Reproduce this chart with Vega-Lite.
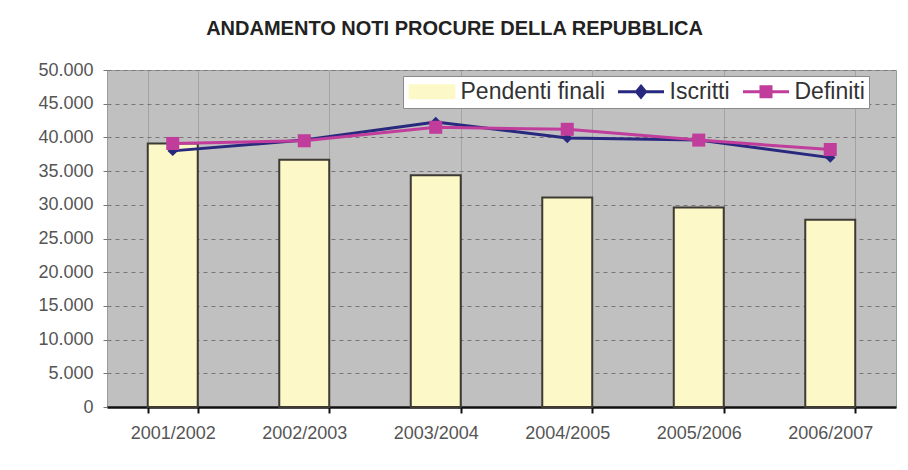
{
  "$schema": "https://vega.github.io/schema/vega-lite/v6.json",
  "width": 789,
  "height": 337,
  "autosize": "none",
  "padding": {"left": 107, "top": 70, "right": 12, "bottom": 63},
  "background": "white",
  "title": {
    "text": "ANDAMENTO NOTI PROCURE DELLA REPUBBLICA",
    "font": "Liberation Sans",
    "fontSize": 20,
    "fontWeight": "bold",
    "color": "#222222",
    "anchor": "middle",
    "dx": -47,
    "offset": 22
  },
  "data": {
    "values": [
      {"anno": "2001/2002", "serie": "Pendenti finali", "valore": 39100},
      {"anno": "2002/2003", "serie": "Pendenti finali", "valore": 36700},
      {"anno": "2003/2004", "serie": "Pendenti finali", "valore": 34400},
      {"anno": "2004/2005", "serie": "Pendenti finali", "valore": 31100},
      {"anno": "2005/2006", "serie": "Pendenti finali", "valore": 29600},
      {"anno": "2006/2007", "serie": "Pendenti finali", "valore": 27800},
      {"anno": "2001/2002", "serie": "Iscritti", "valore": 38000},
      {"anno": "2002/2003", "serie": "Iscritti", "valore": 39600},
      {"anno": "2003/2004", "serie": "Iscritti", "valore": 42300},
      {"anno": "2004/2005", "serie": "Iscritti", "valore": 39900},
      {"anno": "2005/2006", "serie": "Iscritti", "valore": 39600},
      {"anno": "2006/2007", "serie": "Iscritti", "valore": 37000},
      {"anno": "2001/2002", "serie": "Definiti", "valore": 39100},
      {"anno": "2002/2003", "serie": "Definiti", "valore": 39500},
      {"anno": "2003/2004", "serie": "Definiti", "valore": 41500},
      {"anno": "2004/2005", "serie": "Definiti", "valore": 41200},
      {"anno": "2005/2006", "serie": "Definiti", "valore": 39600},
      {"anno": "2006/2007", "serie": "Definiti", "valore": 38200}
    ]
  },
  "encoding": {
    "x": {
      "field": "anno",
      "type": "nominal",
      "title": null,
      "scale": {"paddingInner": 0.62, "paddingOuter": 0.31},
      "axis": {
        "labelAngle": 0,
        "labelFont": "Liberation Sans",
        "labelFontSize": 18,
        "labelColor": "#555555",
        "labelPadding": 11,
        "domainColor": "#111111",
        "domainWidth": 2.5,
        "tickColor": "#111111",
        "tickWidth": 2,
        "tickSize": 6,
        "tickBand": "extent",
        "grid": true,
        "gridColor": "#a3a3a3",
        "gridWidth": 1
      }
    },
    "y": {
      "field": "valore",
      "type": "quantitative",
      "title": null,
      "scale": {"domain": [0, 50000], "nice": false},
      "axis": {
        "tickCount": 10,
        "labelExpr": "replace(format(datum.value, ','), ',', '.')",
        "labelFont": "Liberation Sans",
        "labelFontSize": 18,
        "labelColor": "#555555",
        "labelPadding": 10,
        "domain": false,
        "tickColor": "#777777",
        "tickSize": 4,
        "grid": true,
        "gridColor": "#777777",
        "gridDash": [4, 4],
        "gridWidth": 1
      }
    }
  },
  "layer": [
    {
      "transform": [{"filter": "datum.serie === 'Pendenti finali'"}],
      "mark": {"type": "bar", "stroke": "#3d3a33", "strokeWidth": 2, "opacity": 1},
      "encoding": {
        "color": {
          "field": "serie",
          "type": "nominal",
          "scale": {
            "domain": ["Pendenti finali", "Iscritti", "Definiti"],
            "range": ["#fdf8c8", "#27287e", "#c13d9c"]
          },
          "legend": {
            "title": null,
            "orient": "none",
            "legendX": 296,
            "legendY": 6,
            "direction": "horizontal",
            "fillColor": "white",
            "strokeColor": "#8a8a8a",
            "padding": 4,
            "symbolSize": 400,
            "symbolOffset": 13.5,
            "labelOffset": 17,
            "columnPadding": 7,
            "labelFont": "Liberation Sans",
            "labelFontSize": 23,
            "labelColor": "#333333",
            "symbolOpacity": 1,
            "symbolStrokeColor": {"expr": "datum.value === 'Pendenti finali' ? '#3d3a33' : scale('color', datum.value)"},
            "symbolStrokeWidth": {"expr": "datum.value === 'Pendenti finali' ? 1.8 : 3"},
            "symbolType": {"expr": "datum.value === 'Pendenti finali' ? 'M-2.25,-0.65H2.25V0.65H-2.25Z' : datum.value === 'Iscritti' ? 'M-2.3,0H2.3M0,-0.55L0.45,0L0,0.55L-0.45,0Z' : 'M-2.3,0H2.3M-0.5,-0.5H0.5V0.5H-0.5Z'"}
          }
        }
      }
    },
    {
      "transform": [{"filter": "datum.serie !== 'Pendenti finali'"}],
      "mark": {"type": "line", "strokeWidth": 3},
      "encoding": {
        "color": {"field": "serie", "type": "nominal"}
      }
    },
    {
      "transform": [{"filter": "datum.serie === 'Iscritti'"}],
      "mark": {"type": "point", "shape": "diamond", "filled": true, "size": 110, "opacity": 1},
      "encoding": {
        "color": {"field": "serie", "type": "nominal"}
      }
    },
    {
      "transform": [{"filter": "datum.serie === 'Definiti'"}],
      "mark": {"type": "point", "shape": "square", "filled": true, "size": 170, "opacity": 1},
      "encoding": {
        "color": {"field": "serie", "type": "nominal"}
      }
    }
  ],
  "config": {
    "view": {"fill": "#c0c0c0", "stroke": "#9a9a9a"}
  }
}
